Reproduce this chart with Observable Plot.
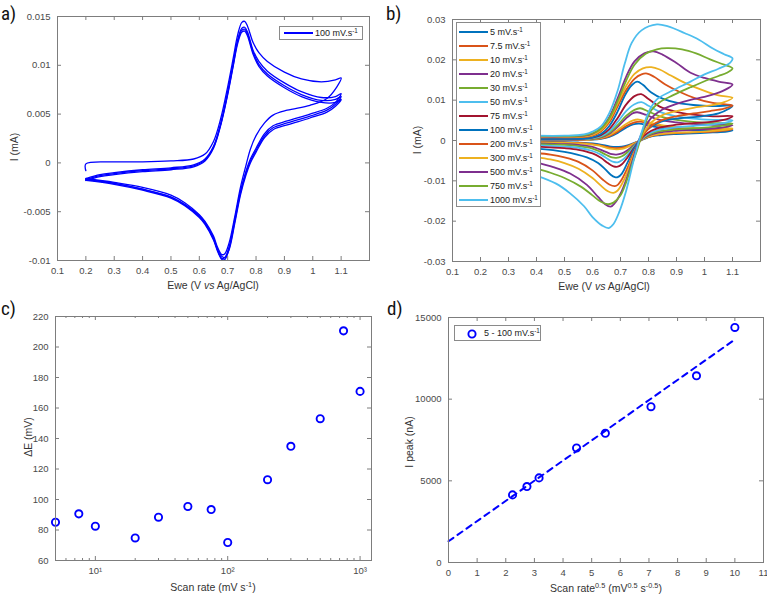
<!DOCTYPE html>
<html><head><meta charset="utf-8">
<script src="https://cdn.jsdelivr.net/npm/d3@7"></script>
<script src="https://cdn.jsdelivr.net/npm/@observablehq/plot@0.6"></script>
<style>
body{margin:0;background:#fff;}
#fig{position:relative;width:767px;height:598px;font-family:"Liberation Sans",Arial,Helvetica,sans-serif;overflow:hidden;}
.panel{position:absolute;}
.plab{position:absolute;font-family:"Liberation Sans Narrow","Roboto Condensed",Roboto,sans-serif;font-size:19px;line-height:19px;color:#111;}
.axl{position:absolute;font-size:10.5px;color:#333;white-space:nowrap;transform:translate(-50%,-50%);line-height:12px;}
.axl.rot{transform:translate(-50%,-50%) rotate(-90deg);}
.axl sup,.leg sup{font-size:70%;line-height:0;vertical-align:0.55em;}
.leg{position:absolute;background:#fff;border:1px solid #8a8a8a;font-size:9px;color:#222;box-sizing:border-box;}
.leg .row{position:absolute;white-space:nowrap;line-height:10px;}
.leg .sw{position:absolute;height:2px;}
</style></head><body>
<div id="fig"></div>
<script>
// ---------- DATA ----------
// Panel a: 100 mV/s, successive cycles, [E (V), I (mA)]
const a_cycle1 = [[0.2,-0.0008],[0.2,-0.0001],[0.3,0.0001],[0.4,0.0001],[0.5,0.0002],[0.58,0.0004],[0.62,0.0009],[0.65,0.0022],[0.675,0.0045],[0.7,0.0078],[0.72,0.0108],[0.735,0.0131],[0.75,0.0144],[0.76,0.0145],[0.77,0.014],[0.79,0.0123],[0.81,0.0113],[0.84,0.0104],[0.9,0.0093],[0.96,0.0086],[1.03,0.0083],[1.08,0.0085],[1.1,0.0087],
  [1.085,0.0078],[1.05,0.0066],[0.99,0.0059],[0.91,0.0054],[0.86,0.0049],[0.83,0.0041],[0.8,0.0028],[0.78,0.0014],[0.765,-0.0002],[0.745,-0.0025],[0.725,-0.0055],[0.705,-0.0082],[0.69,-0.0093],[0.68,-0.0094],[0.665,-0.0087],[0.65,-0.0075],[0.62,-0.006],[0.6,-0.0053],[0.55,-0.0041],[0.5,-0.0033],[0.4,-0.0025],[0.3,-0.002],[0.2,-0.0016]];
const a_cycle2 = [[0.2,-0.0016],[0.25,-0.0012],[0.3,-0.001],[0.4,-0.0007],[0.5,-0.0005],[0.58,-0.0002],[0.62,0.0004],[0.65,0.0017],[0.675,0.004],[0.7,0.0073],[0.72,0.0103],[0.735,0.0126],[0.75,0.0138],[0.76,0.0139],[0.77,0.0134],[0.79,0.0115],[0.81,0.0104],[0.84,0.0094],[0.9,0.0082],[0.96,0.0073],[1.03,0.0067],[1.08,0.0068],[1.1,0.0071],
  [1.08,0.0062],[1.05,0.0056],[0.99,0.005],[0.91,0.0043],[0.86,0.0038],[0.83,0.003],[0.8,0.0015],[0.78,0.0004],[0.765,-0.0008],[0.745,-0.0029],[0.725,-0.0058],[0.705,-0.0086],[0.69,-0.0097],[0.68,-0.0098],[0.665,-0.009],[0.65,-0.0078],[0.62,-0.0062],[0.6,-0.0055],[0.55,-0.0043],[0.5,-0.0035],[0.4,-0.0027],[0.3,-0.0021],[0.2,-0.0017]];
const a_cycle3 = [[0.2,-0.0017],[0.25,-0.0013],[0.3,-0.0011],[0.4,-0.0008],[0.5,-0.0006],[0.58,-0.0003],[0.62,0.0003],[0.65,0.0016],[0.675,0.0039],[0.7,0.0071],[0.72,0.0101],[0.735,0.0124],[0.75,0.0136],[0.76,0.0137],[0.77,0.0132],[0.79,0.0113],[0.81,0.0101],[0.84,0.0091],[0.9,0.0079],[0.96,0.007],[1.03,0.0064],[1.08,0.0065],[1.1,0.0068],
  [1.08,0.006],[1.05,0.0054],[0.99,0.0048],[0.91,0.0041],[0.86,0.0036],[0.83,0.0028],[0.8,0.0013],[0.78,0.0002],[0.765,-0.001],[0.745,-0.0031],[0.725,-0.006],[0.705,-0.0088],[0.69,-0.0099],[0.68,-0.0099],[0.665,-0.0091],[0.65,-0.0079],[0.62,-0.0063],[0.6,-0.0056],[0.55,-0.0044],[0.5,-0.0036],[0.4,-0.0028],[0.3,-0.0022],[0.2,-0.0018]];
const a_cycle4 = [[0.2,-0.0018],[0.25,-0.0014],[0.3,-0.0012],[0.4,-0.0009],[0.5,-0.0007],[0.58,-0.0004],[0.62,0.0002],[0.65,0.0015],[0.675,0.0038],[0.7,0.007],[0.72,0.01],[0.735,0.0122],[0.75,0.0134],[0.76,0.0135],[0.77,0.013],[0.79,0.0111],[0.81,0.0099],[0.84,0.0089],[0.9,0.0077],[0.96,0.0068],[1.03,0.0062],[1.08,0.0062],[1.1,0.0065],
  [1.08,0.0058],[1.05,0.0052],[0.99,0.0046],[0.91,0.0039],[0.86,0.0034],[0.83,0.0026],[0.8,0.0011],[0.78,0.0],[0.765,-0.0012],[0.745,-0.0033],[0.725,-0.0062],[0.705,-0.0089],[0.69,-0.0097],[0.68,-0.0096],[0.665,-0.0089],[0.65,-0.0077],[0.62,-0.0061],[0.6,-0.0054],[0.55,-0.0043],[0.5,-0.0035],[0.4,-0.0027],[0.3,-0.0021],[0.2,-0.0017]];

// Panel b: scan rates and CV loops [E (V), I (mA)]
const b_labels = ["5","7.5","10","20","30","50","75","100","200","300","500","750","1000"];
const cv5 = [[0.4,0.0001],[0.5,0.0001],[0.57,0.0002],[0.6,0.0002],[0.63,0.0004],[0.66,0.0009],[0.69,0.0019],[0.72,0.0032],[0.745,0.004],[0.767,0.0042],[0.8,0.0037],[0.84,0.0032],[0.9,0.0028],[0.96,0.0026],[1.03,0.0025],[1.1,0.0025],
  [1.08,0.0022],[1.03,0.002],[0.96,0.0018],[0.89,0.0016],[0.84,0.0013],[0.81,0.001],[0.785,0.0004],[0.765,-0.0002],[0.745,-0.0007],[0.725,-0.0012],[0.705,-0.0015],[0.682,-0.0016],[0.665,-0.0015],[0.645,-0.0012],[0.62,-0.0009],[0.6,-0.0007],[0.55,-0.0005],[0.5,-0.0004],[0.4,-0.0003]];
const cv7_5 = [[0.4,0.0002],[0.5,0.0002],[0.57,0.0002],[0.6,0.0003],[0.63,0.0005],[0.66,0.0011],[0.69,0.0022],[0.72,0.0036],[0.75,0.0045],[0.77,0.0047],[0.8,0.0042],[0.84,0.0036],[0.9,0.0031],[0.96,0.0029],[1.03,0.0028],[1.1,0.0028],
  [1.08,0.0025],[1.03,0.0022],[0.96,0.002],[0.89,0.0018],[0.84,0.0015],[0.81,0.0011],[0.785,0.0005],[0.765,-0.0002],[0.745,-0.0008],[0.725,-0.0014],[0.705,-0.0018],[0.68,-0.0019],[0.665,-0.0018],[0.645,-0.0015],[0.62,-0.0011],[0.6,-0.0009],[0.55,-0.0006],[0.5,-0.0005],[0.4,-0.0004]];
const cv10 = [[0.4,0.0002],[0.5,0.0002],[0.57,0.0002],[0.6,0.0003],[0.63,0.0006],[0.66,0.0013],[0.69,0.0026],[0.72,0.0041],[0.745,0.005],[0.765,0.0052],[0.79,0.0047],[0.83,0.004],[0.9,0.0034],[0.96,0.0031],[1.03,0.003],[1.1,0.003],
  [1.08,0.0027],[1.03,0.0024],[0.96,0.0021],[0.89,0.0019],[0.84,0.0016],[0.81,0.0012],[0.785,0.0005],[0.765,-0.0002],[0.745,-0.0009],[0.725,-0.0016],[0.705,-0.0021],[0.685,-0.0022],[0.67,-0.0021],[0.65,-0.0018],[0.625,-0.0013],[0.6,-0.001],[0.55,-0.0007],[0.5,-0.0006],[0.4,-0.0005]];
const cv20 = [[0.4,0.0002],[0.5,0.0002],[0.57,0.0003],[0.6,0.0004],[0.63,0.0008],[0.66,0.0017],[0.69,0.0034],[0.72,0.0055],[0.745,0.0068],[0.76,0.007],[0.79,0.0064],[0.83,0.0053],[0.9,0.0045],[0.96,0.0041],[1.03,0.0039],[1.1,0.0038],
  [1.08,0.0034],[1.03,0.003],[0.96,0.0027],[0.89,0.0024],[0.84,0.002],[0.81,0.0015],[0.785,0.0007],[0.765,-0.0003],[0.745,-0.0013],[0.725,-0.0024],[0.705,-0.0032],[0.685,-0.0035],[0.67,-0.0034],[0.65,-0.0029],[0.625,-0.0022],[0.6,-0.0016],[0.55,-0.0011],[0.5,-0.0009],[0.4,-0.0007]];
const cv30 = [[0.4,0.0003],[0.5,0.0003],[0.57,0.0004],[0.6,0.0005],[0.63,0.0009],[0.66,0.0019],[0.69,0.0038],[0.72,0.0061],[0.75,0.0076],[0.77,0.008],[0.8,0.0072],[0.84,0.006],[0.9,0.0051],[0.96,0.0046],[1.03,0.0043],[1.1,0.0042],
  [1.08,0.0038],[1.03,0.0034],[0.96,0.003],[0.89,0.0027],[0.84,0.0023],[0.81,0.0017],[0.785,0.0008],[0.765,-0.0003],[0.745,-0.0015],[0.725,-0.0029],[0.705,-0.0039],[0.685,-0.0043],[0.67,-0.0042],[0.65,-0.0036],[0.625,-0.0027],[0.6,-0.002],[0.55,-0.0014],[0.5,-0.0011],[0.4,-0.0009]];
const cv50 = [[0.4,0.0003],[0.5,0.0003],[0.57,0.0004],[0.6,0.0006],[0.63,0.0011],[0.66,0.0023],[0.69,0.0046],[0.72,0.0073],[0.75,0.009],[0.775,0.0095],[0.8,0.0086],[0.84,0.0071],[0.9,0.006],[0.96,0.0054],[1.03,0.0051],[1.1,0.005],
  [1.08,0.0045],[1.03,0.004],[0.96,0.0036],[0.89,0.0032],[0.84,0.0027],[0.81,0.002],[0.785,0.001],[0.765,-0.0003],[0.745,-0.0018],[0.725,-0.0036],[0.705,-0.0049],[0.69,-0.0054],[0.675,-0.0053],[0.655,-0.0046],[0.63,-0.0035],[0.6,-0.0026],[0.55,-0.0018],[0.5,-0.0015],[0.4,-0.0012]];
const cv75 = [[0.4,0.0004],[0.5,0.0004],[0.57,0.0005],[0.6,0.0007],[0.63,0.0013],[0.66,0.0028],[0.69,0.0056],[0.72,0.0089],[0.75,0.011],[0.774,0.0115],[0.8,0.0103],[0.84,0.0084],[0.9,0.0071],[0.96,0.0064],[1.03,0.006],[1.1,0.006],
  [1.08,0.0053],[1.03,0.0047],[0.96,0.0043],[0.89,0.0038],[0.84,0.0032],[0.81,0.0024],[0.785,0.0012],[0.765,-0.0003],[0.745,-0.0021],[0.725,-0.0042],[0.705,-0.0059],[0.69,-0.0065],[0.675,-0.0064],[0.655,-0.0056],[0.63,-0.0043],[0.6,-0.0032],[0.55,-0.0023],[0.5,-0.0019],[0.4,-0.0015]];
const cv100 = [[0.4,0.0004],[0.5,0.0004],[0.57,0.0005],[0.6,0.0008],[0.63,0.0016],[0.66,0.0036],[0.69,0.0072],[0.715,0.0111],[0.74,0.0137],[0.76,0.0146],[0.78,0.0138],[0.81,0.0119],[0.85,0.0104],[0.9,0.0094],[0.96,0.0088],[1.03,0.0085],[1.1,0.0086],
  [1.085,0.0078],[1.05,0.0067],[0.99,0.006],[0.91,0.0055],[0.86,0.005],[0.83,0.0042],[0.8,0.0029],[0.78,0.0015],[0.765,-0.0001],[0.745,-0.0025],[0.725,-0.0055],[0.705,-0.0082],[0.69,-0.0091],[0.68,-0.0091],[0.665,-0.0085],[0.645,-0.0071],[0.62,-0.0056],[0.58,-0.0042],[0.5,-0.0028],[0.4,-0.002]];
const cv200 = [[0.4,0.0008],[0.5,0.0008],[0.57,0.0009],[0.6,0.0012],[0.63,0.0022],[0.66,0.0045],[0.69,0.0085],[0.72,0.0125],[0.75,0.0153],[0.775,0.0164],[0.795,0.0166],[0.82,0.0158],[0.86,0.0139],[0.91,0.0121],[0.97,0.0104],[1.03,0.0093],[1.1,0.0087],
  [1.07,0.0079],[1.02,0.0073],[0.96,0.0067],[0.9,0.006],[0.85,0.0051],[0.81,0.0036],[0.785,0.0017],[0.765,-0.0006],[0.745,-0.0034],[0.725,-0.0068],[0.705,-0.0096],[0.69,-0.011],[0.68,-0.0113],[0.66,-0.0109],[0.635,-0.0096],[0.6,-0.0074],[0.55,-0.0053],[0.5,-0.0042],[0.45,-0.0035],[0.4,-0.0031]];
const cv300 = [[0.4,0.0009],[0.5,0.0009],[0.57,0.001],[0.6,0.0014],[0.63,0.0025],[0.66,0.005],[0.69,0.0092],[0.72,0.0135],[0.75,0.0165],[0.78,0.0179],[0.81,0.0182],[0.84,0.0176],[0.88,0.0161],[0.93,0.0143],[1.0,0.0123],[1.05,0.0112],[1.1,0.0106],
  [1.07,0.0095],[1.02,0.0087],[0.96,0.0081],[0.9,0.0073],[0.85,0.0063],[0.81,0.0045],[0.785,0.0022],[0.765,-0.0005],[0.745,-0.0038],[0.725,-0.0078],[0.705,-0.0108],[0.69,-0.0124],[0.675,-0.013],[0.655,-0.0126],[0.63,-0.0112],[0.6,-0.0093],[0.55,-0.007],[0.5,-0.0056],[0.45,-0.0047],[0.4,-0.0041]];
const cv500 = [[0.4,0.001],[0.5,0.001],[0.57,0.0012],[0.6,0.0017],[0.63,0.003],[0.66,0.0058],[0.69,0.0105],[0.72,0.0158],[0.75,0.0196],[0.785,0.0216],[0.818,0.0221],[0.85,0.0213],[0.9,0.0192],[0.95,0.0168],[1.0,0.0155],[1.05,0.0146],[1.1,0.0139],
  [1.08,0.0128],[1.04,0.0116],[1.0,0.0108],[0.95,0.0101],[0.9,0.0091],[0.85,0.0077],[0.81,0.0056],[0.785,0.003],[0.765,0.0],[0.745,-0.0045],[0.72,-0.0098],[0.7,-0.0132],[0.68,-0.0155],[0.665,-0.0164],[0.645,-0.0158],[0.62,-0.014],[0.58,-0.011],[0.52,-0.0082],[0.46,-0.0066],[0.4,-0.0054]];
const cv750 = [[0.4,0.0011],[0.5,0.0011],[0.57,0.0013],[0.6,0.0018],[0.63,0.0029],[0.66,0.0055],[0.69,0.0098],[0.72,0.0148],[0.75,0.0188],[0.79,0.0215],[0.83,0.0226],[0.866,0.0229],[0.92,0.0226],[0.97,0.0216],[1.02,0.0201],[1.07,0.0188],[1.1,0.0179],
  [1.08,0.0168],[1.05,0.016],[1.0,0.0147],[0.95,0.0132],[0.89,0.0113],[0.84,0.0095],[0.81,0.0075],[0.79,0.0045],[0.775,0.0012],[0.76,-0.0022],[0.74,-0.0062],[0.72,-0.0104],[0.7,-0.0136],[0.675,-0.0154],[0.655,-0.0158],[0.63,-0.0152],[0.6,-0.0136],[0.56,-0.0115],[0.5,-0.0093],[0.45,-0.008],[0.4,-0.007]];
const cv1000 = [[0.4,0.0012],[0.5,0.0012],[0.57,0.0015],[0.6,0.0022],[0.63,0.0035],[0.66,0.0068],[0.69,0.0124],[0.715,0.019],[0.74,0.0242],[0.775,0.0273],[0.83,0.0288],[0.87,0.0283],[0.93,0.0266],[0.98,0.025],[1.03,0.0228],[1.07,0.0214],[1.1,0.0204],
  [1.09,0.0192],[1.05,0.0178],[1.0,0.0164],[0.95,0.0146],[0.88,0.0122],[0.83,0.0102],[0.8,0.007],[0.78,0.003],[0.765,-0.0003],[0.745,-0.0055],[0.72,-0.0125],[0.695,-0.0178],[0.675,-0.0207],[0.658,-0.0217],[0.635,-0.0211],[0.6,-0.019],[0.57,-0.0163],[0.52,-0.0131],[0.47,-0.0107],[0.4,-0.0087]];
const b_curves = [cv5, cv7_5, cv10, cv20, cv30, cv50, cv75, cv100, cv200, cv300, cv500, cv750, cv1000];

// Panel c: peak separation vs scan rate
const c_rate = [5, 7.5, 10, 20, 30, 50, 75, 100, 200, 300, 500, 750, 1000];
const c_dE = [85.1, 90.6, 82.5, 74.8, 88.4, 95.4, 93.4, 71.8, 113.0, 134.9, 153.0, 210.6, 170.9];

// Panel d: peak current vs sqrt(scan rate)
const d_sqrt = [2.236, 2.739, 3.162, 4.472, 5.477, 7.071, 8.660, 10.0];
const d_ipeak = [4140, 4650, 5180, 7010, 7910, 9540, 11430, 14390];
const d_fitX = [0, 10];
const d_fitY = [1300, 13650];

// Tick values
const a_xTicks = [0.1,0.2,0.3,0.4,0.5,0.6,0.7,0.8,0.9,1,1.1];
const a_yTicks = [-0.01,-0.005,0,0.005,0.01,0.015];
const b_yTicks = [-0.03,-0.02,-0.01,0,0.01,0.02,0.03];
const c_yTicks = [60,80,100,120,140,160,180,200,220];
const c_xMajor = [10, 100, 1000];
const c_xMinor = [6,7,8,9,20,30,40,50,60,70,80,90,200,300,400,500,600,700,800,900];
const d_xTicks = [0,1,2,3,4,5,6,7,8,9,10,11];
const d_yTicks = [0,5000,10000,15000];

// ---------- STYLE ----------
const matlab = ["#0072BD","#D95319","#EDB120","#7E2F8E","#77AC30","#4DBEEE","#A2142F"];
const BLUE = "#0000FF";
const AXC = "#7d7d7d";
const TXT = "#4a4a4a";
const FONT = "'Liberation Sans', Arial, Helvetica, sans-serif";

const fig = document.getElementById("fig");

function panel(cfg) {
  const innerW = cfg.width - cfg.ml - cfg.mr;
  const innerH = cfg.height - cfg.mt - cfg.mb;
  const fmtX = cfg.fmtX || (d => String(d));
  const fmtY = cfg.fmtY || (d => String(d));
  const marks = [
    ...cfg.marks,
    Plot.frame({stroke: AXC, strokeWidth: 1}),
    Plot.tickX(cfg.xTicks, {x: d => d, insetTop: innerH - 4, stroke: AXC}),
    Plot.tickX(cfg.xTicks, {x: d => d, insetBottom: innerH - 4, stroke: AXC}),
    Plot.tickY(cfg.yTicks, {y: d => d, insetRight: innerW - 4, stroke: AXC}),
    Plot.tickY(cfg.yTicks, {y: d => d, insetLeft: innerW - 4, stroke: AXC}),
    Plot.axisX(cfg.xTicks, {anchor: "bottom", tickSize: 0, tickPadding: 7, tickFormat: fmtX, label: null, fill: TXT, fontSize: 9.5}),
    Plot.axisY(cfg.yTicks, {anchor: "left", tickSize: 0, tickPadding: 7, tickFormat: fmtY, label: null, fill: TXT, fontSize: 9.5}),
    ...(cfg.extra || []).map(f => f(innerW, innerH))
  ];
  const svg = Plot.plot({
    width: cfg.width, height: cfg.height,
    marginLeft: cfg.ml, marginRight: cfg.mr, marginTop: cfg.mt, marginBottom: cfg.mb,
    x: {domain: cfg.xDomain, type: cfg.xType || "linear"},
    y: {domain: cfg.yDomain},
    style: {fontFamily: FONT, fontSize: "9.5px", background: "transparent", overflow: "visible"},
    marks
  });
  const div = document.createElement("div");
  div.className = "panel";
  div.style.left = cfg.left + "px";
  div.style.top = cfg.top + "px";
  div.appendChild(svg);
  fig.appendChild(div);
}

// Panel a
const a_cycles = [a_cycle1, a_cycle2, a_cycle3, a_cycle4];
panel({
  left: 0, top: 0, width: 384, height: 300, ml: 57, mr: 15, mt: 16, mb: 40,
  xDomain: [0.1, 1.2], yDomain: [-0.01, 0.015],
  xTicks: a_xTicks, yTicks: a_yTicks,
  marks: a_cycles.map(c => Plot.line(c, {x: d => d[0], y: d => d[1], stroke: BLUE, strokeWidth: 1.3, curve: "catmull-rom"}))
});

// Panel b
panel({
  left: 384, top: 0, width: 383, height: 300, ml: 68, mr: 7, mt: 19, mb: 39,
  xDomain: [0.1, 1.2], yDomain: [-0.03, 0.03],
  xTicks: a_xTicks, yTicks: b_yTicks,
  marks: b_curves.map((c, i) => Plot.line(c, {x: d => d[0], y: d => d[1], stroke: matlab[i % 7], strokeWidth: 1.8, curve: "catmull-rom"}))
});

// Panel c
const sup = {1: "\u00b9", 2: "\u00b2", 3: "\u00b3"};
panel({
  left: 0, top: 300, width: 384, height: 298, ml: 55, mr: 13, mt: 16, mb: 38,
  xDomain: [5, 1220], xType: "log", yDomain: [60, 220],
  xTicks: c_xMajor, yTicks: c_yTicks,
  fmtX: d => "10" + sup[Math.round(Math.log10(d))],
  marks: [Plot.dot(c_rate.map((r, i) => ({r, e: c_dE[i]})), {x: "r", y: "e", r: 3.6, stroke: BLUE, strokeWidth: 1.9, fill: "none"})],
  extra: [
    (w, h) => Plot.tickX(c_xMinor, {x: d => d, insetTop: h - 2, stroke: AXC}),
    (w, h) => Plot.tickX(c_xMinor, {x: d => d, insetBottom: h - 2, stroke: AXC})
  ]
});

// Panel d
panel({
  left: 384, top: 300, width: 383, height: 298, ml: 64, mr: 4, mt: 17, mb: 36,
  xDomain: [0, 11], yDomain: [0, 15000],
  xTicks: d_xTicks, yTicks: d_yTicks,
  marks: [
    Plot.line(d_fitX.map((x, i) => ({x, y: d_fitY[i]})), {x: "x", y: "y", stroke: BLUE, strokeWidth: 2, strokeDasharray: "6,5"}),
    Plot.dot(d_sqrt.map((x, i) => ({x, y: d_ipeak[i]})), {x: "x", y: "y", r: 3.6, stroke: BLUE, strokeWidth: 1.9, fill: "none"})
  ]
});

// ---------- TEXT OVERLAYS ----------
function addHTML(html) { fig.insertAdjacentHTML("beforeend", html); }
addHTML('<div class="plab" style="left:1px;top:4px">a)</div>');
addHTML('<div class="plab" style="left:386px;top:4px">b)</div>');
addHTML('<div class="plab" style="left:1px;top:299px">c)</div>');
addHTML('<div class="plab" style="left:387px;top:299px">d)</div>');

addHTML('<div class="axl" style="left:213px;top:285px">Ewe (V <i>vs</i> Ag/AgCl)</div>');
addHTML('<div class="axl rot" style="left:14px;top:147px">I (mA)</div>');
addHTML('<div class="axl" style="left:604px;top:286px">Ewe (V <i>vs</i> Ag/AgCl)</div>');
addHTML('<div class="axl rot" style="left:417px;top:140px">I (mA)</div>');
addHTML('<div class="axl" style="left:213px;top:587px">Scan rate (mV s<sup>-1</sup>)</div>');
addHTML('<div class="axl rot" style="left:28px;top:437px">\u0394E (mV)</div>');
addHTML('<div class="axl" style="left:606px;top:588px">Scan rate<sup>0.5</sup> (mV<sup>0.5</sup> s<sup>-0.5</sup>)</div>');
addHTML('<div class="axl rot" style="left:409px;top:442px">I peak (nA)</div>');

// Legend a
addHTML('<div class="leg" style="left:279px;top:26px;width:84px;height:14px">' +
  '<div class="sw" style="left:4px;top:5px;width:29px;background:' + BLUE + '"></div>' +
  '<div class="row" style="left:35px;top:1px">100 mV.s<sup>-1</sup></div></div>');

// Legend b
let lb = '<div class="leg" style="left:456px;top:22px;width:85px;height:185px">';
b_labels.forEach((l, i) => {
  const y = 9 + i * 14.03;
  lb += '<div class="sw" style="left:2px;top:' + (y - 1) + 'px;width:29px;background:' + matlab[i % 7] + '"></div>';
  lb += '<div class="row" style="left:33px;top:' + (y - 5) + 'px">' + l + ' mV.s<sup>-1</sup></div>';
});
lb += '</div>';
addHTML(lb);

// Legend d
addHTML('<div class="leg" style="left:454px;top:325px;width:87px;height:16px">' +
  '<svg style="position:absolute;left:12px;top:3px" width="10" height="10"><circle cx="5" cy="5" r="3.6" fill="none" stroke="' + BLUE + '" stroke-width="1.9"/></svg>' +
  '<div class="row" style="left:29px;top:2px">5 - 100 mV.s<sup>-1</sup></div></div>');
</script>
</body></html>
